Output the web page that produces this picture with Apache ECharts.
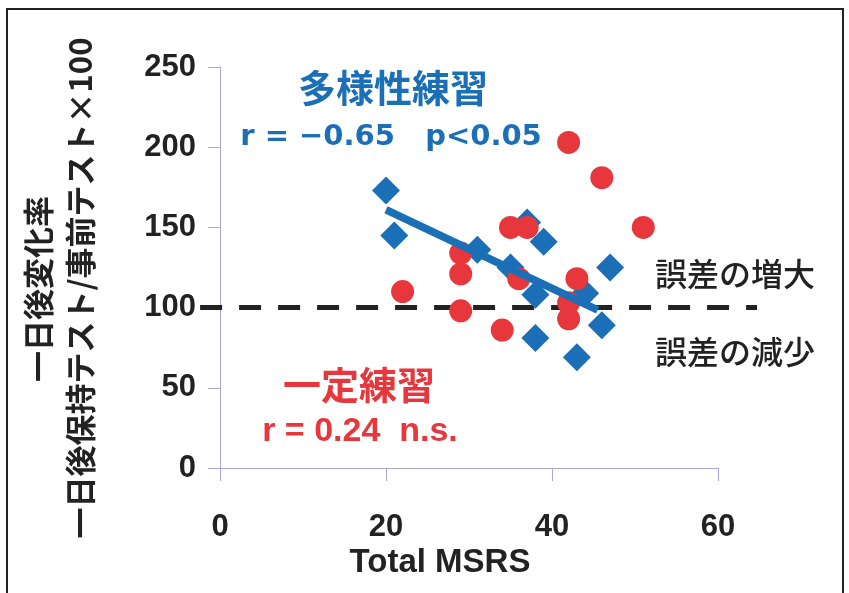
<!DOCTYPE html>
<html><head><meta charset="utf-8">
<script src="https://cdn.jsdelivr.net/npm/echarts@6/dist/echarts.min.js"></script>
<style>html,body{margin:0;padding:0;background:#fff}#c{width:849px;height:593px}</style>
</head><body><div id="c"></div>
<script>
// 多様性練習 (varied practice)
const variedX = [20, 21, 31, 35, 37, 39, 38, 38, 43, 44, 47, 46];
const variedY = [173, 145, 136, 125, 153, 141, 108, 81, 69, 109, 125, 89];
// 一定練習 (constant practice)
const constantX = [22, 29, 29, 29, 34, 35, 37, 36, 42, 46, 51, 43, 42, 42];
const constantY = [110, 134, 121, 98, 86, 150, 150, 118, 203, 181, 150, 118, 103, 93];
// regression line of varied practice
const fitX = [20, 45.5];
const fitY = [161, 98.5];
// reference line (100), extends beyond the axis range
const refX = [-2.4, 64.7];
const refY = [100, 100];
const xTicks = [0, 20, 40, 60];
const yTicks = [0, 50, 100, 150, 200, 250];

const BLUE = '#1b6fb6';
const RED = '#e8373c';
const AXIS = '#aaa6d6';
const zip = (a, b) => a.map((v, i) => [v, b[i]]);
const JP = '"Noto Sans CJK JP", "Noto Sans", sans-serif';
const NUM = '"Liberation Sans", Arial, sans-serif';
const WIDE = '"DejaVu Sans", sans-serif';

// main grid geometry
const G = {left: 220, right: 131, top: 67, bottom: 125};
const plotW = 849 - G.left - G.right;
const pxPerX = plotW / (xTicks[xTicks.length - 1] - xTicks[0]);
// second grid sharing the same scale, wide enough for the reference line
const G2 = {
  left: G.left + (refX[0] - xTicks[0]) * pxPerX,
  right: G.right - (refX[1] - xTicks[xTicks.length - 1]) * pxPerX,
  top: G.top, bottom: G.bottom
};

const chart = echarts.init(document.getElementById('c'), null, {renderer: 'canvas'});
chart.setOption({
  backgroundColor: '#fff',
  animation: false,
  grid: [G, G2],
  xAxis: [{
    type: 'value', gridIndex: 0, min: xTicks[0], max: xTicks[xTicks.length - 1], interval: 20,
    splitLine: {show: false},
    axisLine: {lineStyle: {color: AXIS, width: 1}},
    axisTick: {show: true, length: 13, lineStyle: {color: AXIS}},
    axisLabel: {margin: 44, color: '#222', fontSize: 31, fontWeight: 'bold', fontFamily: NUM}
  }, {
    type: 'value', gridIndex: 1, min: refX[0], max: refX[1], show: false, splitLine: {show: false}
  }],
  yAxis: [{
    type: 'value', gridIndex: 0, min: yTicks[0], max: yTicks[yTicks.length - 1], interval: 50,
    splitLine: {show: false},
    axisLine: {show: true, lineStyle: {color: AXIS, width: 1}},
    axisTick: {show: true, length: 12, lineStyle: {color: AXIS}},
    axisLabel: {margin: 24, color: '#222', fontSize: 31, fontWeight: 'bold', fontFamily: NUM}
  }, {
    type: 'value', gridIndex: 1, min: yTicks[0], max: yTicks[yTicks.length - 1], show: false, splitLine: {show: false}
  }],
  series: [
    {
      type: 'line', xAxisIndex: 1, yAxisIndex: 1, data: zip(refX, refY), symbol: 'none',
      lineStyle: {color: '#222', width: 5, type: [22, 17]}, z: 1
    },
    {
      type: 'scatter', name: '多様性練習', data: zip(variedX, variedY),
      symbol: 'diamond', symbolSize: 28, itemStyle: {color: BLUE, opacity: 1}, z: 2
    },
    {
      type: 'scatter', name: '一定練習', data: zip(constantX, constantY),
      symbol: 'circle', symbolSize: 23, itemStyle: {color: RED, opacity: 1}, z: 3
    },
    {
      type: 'line', data: zip(fitX, fitY), symbol: 'none',
      lineStyle: {color: BLUE, width: 7.5}, z: 4
    }
  ],
  graphic: [
    {type: 'rect', shape: {x: 7, y: 9, width: 836, height: 600},
     style: {fill: 'none', stroke: '#222', lineWidth: 2}, silent: true},
    {type: 'text', x: 393, y: 88, style: {text: '多様性練習', fill: BLUE, font: 'bold 38px ' + JP, textAlign: 'center', textVerticalAlign: 'middle'}},
    {type: 'text', x: 391, y: 137, style: {text: 'r = −0.65   p<0.05', fill: BLUE, font: 'bold 29px ' + WIDE, textAlign: 'center', textVerticalAlign: 'middle'}},
    {type: 'text', x: 359, y: 385, style: {text: '一定練習', fill: RED, font: 'bold 38px ' + JP, textAlign: 'center', textVerticalAlign: 'middle'}},
    {type: 'text', x: 360, y: 432, style: {text: 'r = 0.24  n.s.', fill: RED, font: 'bold 34px ' + NUM, textAlign: 'center', textVerticalAlign: 'middle'}},
    {type: 'text', x: 735, y: 274, style: {text: '誤差の増大', fill: '#222', font: '500 32px ' + JP, textAlign: 'center', textVerticalAlign: 'middle'}},
    {type: 'text', x: 735, y: 352, style: {text: '誤差の減少', fill: '#222', font: '500 32px ' + JP, textAlign: 'center', textVerticalAlign: 'middle'}},
    {type: 'text', x: 440, y: 563, style: {text: 'Total MSRS', fill: '#222', font: 'bold 33px ' + NUM, textAlign: 'center', textVerticalAlign: 'middle'}},
    {type: 'text', x: 38, y: 289, rotation: Math.PI / 2, style: {text: '一日後変化率', fill: '#222', font: 'bold 31px ' + JP, textAlign: 'center', textVerticalAlign: 'middle'}},
    {type: 'text', x: 80, y: 288, rotation: Math.PI / 2, style: {text: '一日後保持テスト/事前テスト×100', fill: '#222', font: 'bold 31px ' + JP, textAlign: 'center', textVerticalAlign: 'middle'}}
  ]
});
</script>
</body></html>
